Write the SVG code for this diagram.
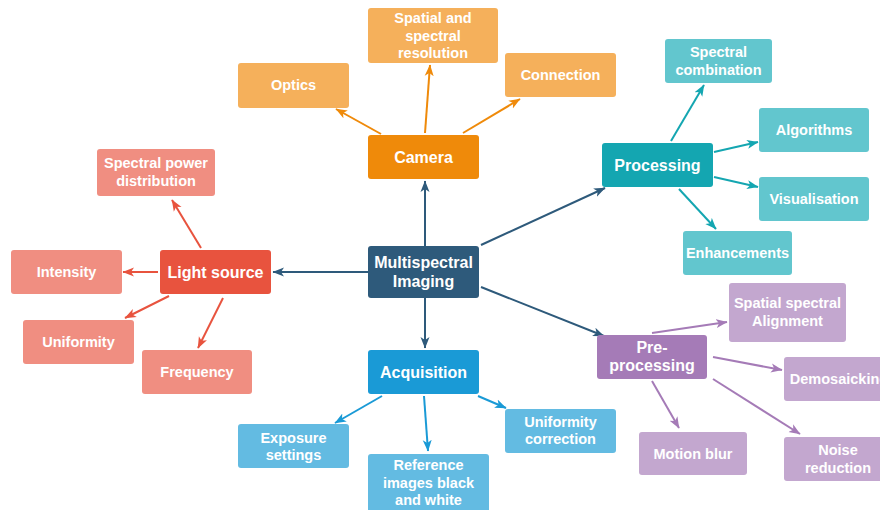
<svg xmlns="http://www.w3.org/2000/svg" width="880" height="510" viewBox="0 0 880 510">
<defs>
<style>
text{font-family:"Liberation Sans",Arial,Helvetica,sans-serif;font-weight:bold;fill:#fff;text-anchor:middle}
.m{font-size:16px}
.c{font-size:14.5px}
line{stroke-width:2;fill:none}
.kd{stroke:#2E5A7B}.ko{stroke:#EF8A0A}.kr{stroke:#E8533E}.kt{stroke:#14A6B1}.kp{stroke:#A57BB7}.kb{stroke:#1A9AD6}
</style>
<marker id="ad" viewBox="0 0 12 10" refX="11" refY="5" markerWidth="12" markerHeight="10" markerUnits="userSpaceOnUse" orient="auto"><path d="M0,0.5 L11.5,5 L0,9.5 L3,5 z" fill="#2E5A7B"/></marker>
<marker id="ao" viewBox="0 0 12 10" refX="11" refY="5" markerWidth="12" markerHeight="10" markerUnits="userSpaceOnUse" orient="auto"><path d="M0,0.5 L11.5,5 L0,9.5 L3,5 z" fill="#EF8A0A"/></marker>
<marker id="ar" viewBox="0 0 12 10" refX="11" refY="5" markerWidth="12" markerHeight="10" markerUnits="userSpaceOnUse" orient="auto"><path d="M0,0.5 L11.5,5 L0,9.5 L3,5 z" fill="#E8533E"/></marker>
<marker id="at" viewBox="0 0 12 10" refX="11" refY="5" markerWidth="12" markerHeight="10" markerUnits="userSpaceOnUse" orient="auto"><path d="M0,0.5 L11.5,5 L0,9.5 L3,5 z" fill="#14A6B1"/></marker>
<marker id="ap" viewBox="0 0 12 10" refX="11" refY="5" markerWidth="12" markerHeight="10" markerUnits="userSpaceOnUse" orient="auto"><path d="M0,0.5 L11.5,5 L0,9.5 L3,5 z" fill="#A57BB7"/></marker>
<marker id="ab" viewBox="0 0 12 10" refX="11" refY="5" markerWidth="12" markerHeight="10" markerUnits="userSpaceOnUse" orient="auto"><path d="M0,0.5 L11.5,5 L0,9.5 L3,5 z" fill="#1A9AD6"/></marker>
</defs>
<rect width="880" height="510" fill="#fff"/>

<g id="connectors">
<line class="kd" x1="425" y1="246" x2="425" y2="181" marker-end="url(#ad)"/>
<line class="kd" x1="425" y1="298" x2="425" y2="348" marker-end="url(#ad)"/>
<line class="kd" x1="368" y1="272" x2="273" y2="272" marker-end="url(#ad)"/>
<line class="kd" x1="481" y1="245" x2="605" y2="188" marker-end="url(#ad)"/>
<line class="kd" x1="481" y1="287" x2="604" y2="336" marker-end="url(#ad)"/>

<line class="ko" x1="381" y1="134" x2="336" y2="109" marker-end="url(#ao)"/>
<line class="ko" x1="425" y1="133" x2="430" y2="65" marker-end="url(#ao)"/>
<line class="ko" x1="463" y1="133" x2="520" y2="99" marker-end="url(#ao)"/>

<line class="kr" x1="201" y1="248" x2="172" y2="200" marker-end="url(#ar)"/>
<line class="kr" x1="158" y1="272" x2="123" y2="272" marker-end="url(#ar)"/>
<line class="kr" x1="169" y1="296" x2="125" y2="318" marker-end="url(#ar)"/>
<line class="kr" x1="223" y1="298" x2="198" y2="348" marker-end="url(#ar)"/>

<line class="kt" x1="671" y1="141" x2="704" y2="85" marker-end="url(#at)"/>
<line class="kt" x1="714" y1="152" x2="758" y2="142" marker-end="url(#at)"/>
<line class="kt" x1="714" y1="177" x2="758" y2="187" marker-end="url(#at)"/>
<line class="kt" x1="679" y1="189" x2="716" y2="229" marker-end="url(#at)"/>

<line class="kp" x1="652" y1="333" x2="727" y2="322" marker-end="url(#ap)"/>
<line class="kp" x1="713" y1="357" x2="782" y2="370" marker-end="url(#ap)"/>
<line class="kp" x1="652" y1="381" x2="679" y2="428" marker-end="url(#ap)"/>
<line class="kp" x1="713" y1="379" x2="800" y2="434" marker-end="url(#ap)"/>

<line class="kb" x1="382" y1="396" x2="335" y2="423" marker-end="url(#ab)"/>
<line class="kb" x1="424" y1="396" x2="428" y2="451" marker-end="url(#ab)"/>
<line class="kb" x1="478" y1="396" x2="506" y2="408" marker-end="url(#ab)"/>
</g>

<g id="multispectral-imaging"><rect x="368" y="246" width="111" height="52" rx="3" fill="#2E5A7B"/><text class="m" x="423.5" y="268">Multispectral</text><text class="m" x="423.5" y="287">Imaging</text></g>

<g id="camera"><rect x="368" y="135" width="111" height="44" rx="3" fill="#EF8A0A"/><text class="m" x="423.5" y="163">Camera</text></g>
<g id="optics"><rect x="238" y="63" width="111" height="45" rx="3" fill="#F5B05B"/><text class="c" x="293.5" y="90">Optics</text></g>
<g id="spatial-spectral-resolution"><rect x="368" y="8" width="130" height="55" rx="3" fill="#F5B05B"/><text class="c" x="433" y="23">Spatial and</text><text class="c" x="433" y="40.5">spectral</text><text class="c" x="433" y="58">resolution</text></g>
<g id="connection"><rect x="505" y="53" width="111" height="44" rx="3" fill="#F5B05B"/><text class="c" x="560.5" y="80">Connection</text></g>

<g id="light-source"><rect x="160" y="250" width="111" height="44" rx="3" fill="#E8533E"/><text class="m" x="215.5" y="278">Light source</text></g>
<g id="spectral-power-distribution"><rect x="97" y="149" width="118" height="47" rx="3" fill="#F08E81"/><text class="c" x="156" y="168">Spectral power</text><text class="c" x="156" y="186">distribution</text></g>
<g id="intensity"><rect x="11" y="250" width="111" height="44" rx="3" fill="#F08E81"/><text class="c" x="66.5" y="277">Intensity</text></g>
<g id="uniformity"><rect x="23" y="320" width="111" height="44" rx="3" fill="#F08E81"/><text class="c" x="78.5" y="347">Uniformity</text></g>
<g id="frequency"><rect x="142" y="350" width="110" height="44" rx="3" fill="#F08E81"/><text class="c" x="197" y="377">Frequency</text></g>

<g id="processing"><rect x="602" y="143" width="111" height="44" rx="3" fill="#14A6B1"/><text class="m" x="657.5" y="171">Processing</text></g>
<g id="spectral-combination"><rect x="665" y="39" width="107" height="44" rx="3" fill="#62C6CE"/><text class="c" x="718.5" y="57">Spectral</text><text class="c" x="718.5" y="74.5">combination</text></g>
<g id="algorithms"><rect x="759" y="108" width="110" height="44" rx="3" fill="#62C6CE"/><text class="c" x="814" y="135">Algorithms</text></g>
<g id="visualisation"><rect x="759" y="177" width="110" height="44" rx="3" fill="#62C6CE"/><text class="c" x="814" y="204">Visualisation</text></g>
<g id="enhancements"><rect x="683" y="231" width="109" height="44" rx="3" fill="#62C6CE"/><text class="c" x="737.5" y="258">Enhancements</text></g>

<g id="pre-processing"><rect x="597" y="335" width="110" height="44" rx="3" fill="#A57BB7"/><text class="m" x="652" y="353">Pre-</text><text class="m" x="652" y="371">processing</text></g>
<g id="spatial-spectral-alignment"><rect x="729" y="283" width="117" height="59" rx="3" fill="#C3A7CF"/><text class="c" x="787.5" y="308">Spatial spectral</text><text class="c" x="787.5" y="326">Alignment</text></g>
<g id="demosaicking"><rect x="784" y="357" width="110" height="44" rx="3" fill="#C3A7CF"/><text class="c" x="839" y="384">Demosaicking</text></g>
<g id="motion-blur"><rect x="639" y="432" width="108" height="43" rx="3" fill="#C3A7CF"/><text class="c" x="693" y="459">Motion blur</text></g>
<g id="noise-reduction"><rect x="784" y="437" width="110" height="44" rx="3" fill="#C3A7CF"/><text class="c" x="838" y="455">Noise</text><text class="c" x="838" y="472.5">reduction</text></g>

<g id="acquisition"><rect x="368" y="350" width="111" height="44" rx="3" fill="#1A9AD6"/><text class="m" x="423.5" y="378">Acquisition</text></g>
<g id="exposure-settings"><rect x="238" y="424" width="111" height="44" rx="3" fill="#63BBE2"/><text class="c" x="293.5" y="442.5">Exposure</text><text class="c" x="293.5" y="460">settings</text></g>
<g id="reference-images"><rect x="368" y="454" width="121" height="62" rx="3" fill="#63BBE2"/><text class="c" x="428.5" y="469.5">Reference</text><text class="c" x="428.5" y="487.5">images black</text><text class="c" x="428.5" y="505">and white</text></g>
<g id="uniformity-correction"><rect x="505" y="409" width="111" height="44" rx="3" fill="#63BBE2"/><text class="c" x="560.5" y="426.5">Uniformity</text><text class="c" x="560.5" y="444">correction</text></g>
</svg>
